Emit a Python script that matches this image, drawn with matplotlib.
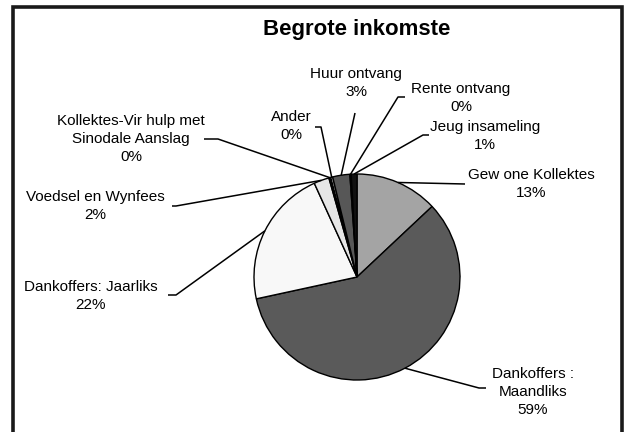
import matplotlib.pyplot as plt
import numpy as np
from matplotlib.patches import Rectangle

plt.rcParams['font.family'] = ['Liberation Sans', 'DejaVu Sans']

# Data (clockwise from 12 o'clock)
labels = ['Gew one Kollektes', 'Dankoffers :\nMaandliks', 'Dankoffers: Jaarliks',
          'Voedsel en Wynfees', 'Kollektes-Vir hulp met\nSinodale Aanslag', 'Ander',
          'Huur ontvang', 'Rente ontvang', 'Jeug insameling']
values = [13.0, 58.6, 21.6, 2.4, 0.3, 0.3, 2.7, 0.2, 0.9]
colors = ['#a4a4a4', '#5a5a5a', '#f8f8f8', '#e6e6e6', '#111111', '#ffffff',
          '#575757', '#ffffff', '#111111']

# Layout in pixels (y measured from top)
W, H = 626, 432
cx, cy, rad = 357, 277, 103
text_pos = [(531, 184), (533, 392), (91, 296), (95, 206), (131, 139),
            (291, 126), (356, 83), (461, 98), (485, 136)]
leader_kink = [(465, 184), (479, 388), (176, 295), (176, 206), (218, 139),
               (321, 127), (355, 113), (398, 97), (423, 135)]
leader_tail = [None, (486, 388), (168, 295), (172, 206), (204, 139),
               (315, 127), None, (405, 97), (429, 135)]

fig = plt.figure(figsize=(W / 100, H / 100), dpi=100)
ax = fig.add_axes([0, 0, 1, 1])

wedges, _ = ax.pie(values, colors=colors, startangle=90, counterclock=False,
                   center=(cx, H - cy), radius=rad,
                   wedgeprops=dict(edgecolor='black', linewidth=1.0))
ax.set_xlim(0, W)
ax.set_ylim(0, H)
ax.set_aspect('equal')
ax.axis('off')

total = sum(values)
for w, lab, v, tp, kink, tail in zip(wedges, labels, values, text_pos,
                                     leader_kink, leader_tail):
    mid = np.deg2rad((w.theta1 + w.theta2) / 2)
    sx = cx + rad * np.cos(mid)
    sy = (H - cy) + rad * np.sin(mid)
    xs = [sx, kink[0]]
    ys = [sy, H - kink[1]]
    if tail is not None:
        xs.append(tail[0])
        ys.append(H - tail[1])
    ax.plot(xs, ys, color='black', lw=1.1, solid_capstyle='butt')
    pct = round(v / total * 100)
    ax.text(tp[0], H - tp[1], f'{lab}\n{pct}%', ha='center', va='center',
            fontsize=11, linespacing=1.35)

ax.text(357, H - 29, 'Begrote inkomste', ha='center', va='center',
        fontsize=16, fontweight='bold')

# chart frame (bottom edge falls outside the image)
ax.add_patch(Rectangle((12.5, -10), 609, H - 7 + 10, fill=False,
                       edgecolor='#1a1a1a', lw=2.6, clip_on=False))

fig.savefig('out.png', dpi=100)
